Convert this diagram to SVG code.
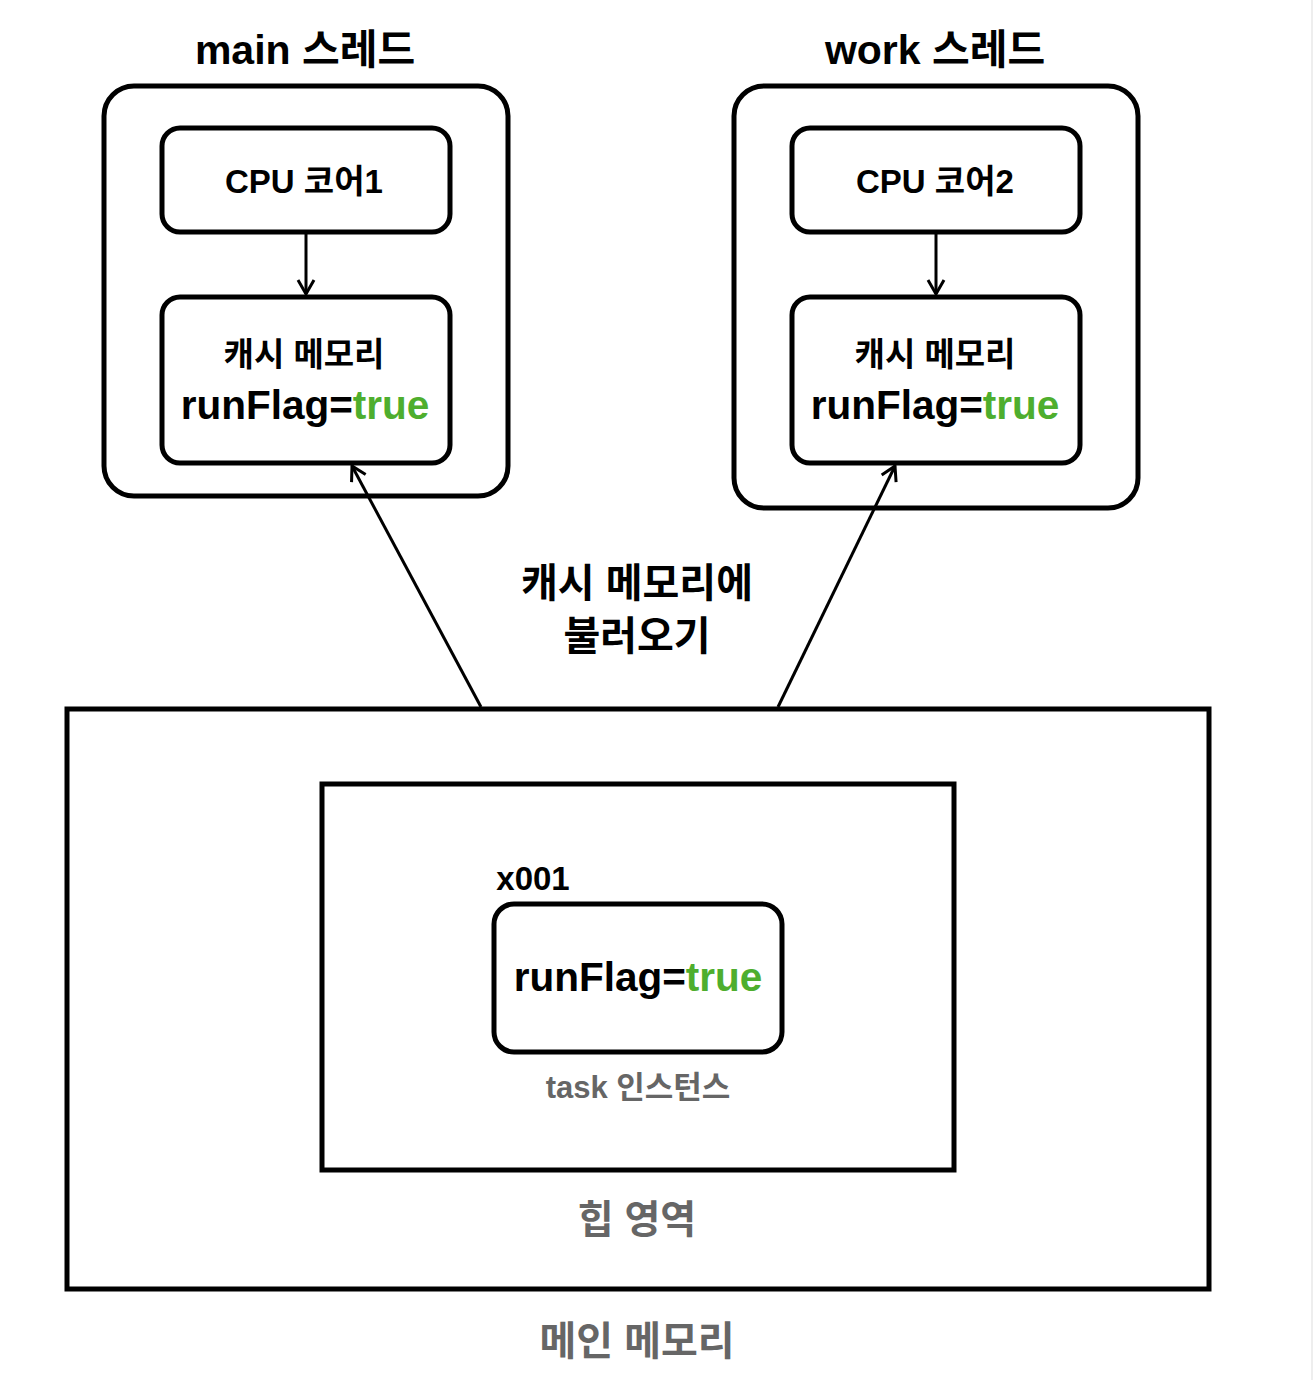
<svg xmlns="http://www.w3.org/2000/svg" width="1314" height="1380" viewBox="0 0 1314 1380">
<style>
text{font-family:"Liberation Sans","Noto Sans CJK KR",sans-serif;font-weight:bold;text-anchor:middle;fill:#000}
.box{fill:#fff;stroke:#000;stroke-width:5}
.g{fill:#4eae2e}
.gray{fill:#666}
.ln{stroke:#000;stroke-width:3;fill:none}
</style>
<defs>
<marker id="ah" viewBox="0 0 20 20" refX="17" refY="10" markerWidth="20" markerHeight="20" markerUnits="userSpaceOnUse" orient="auto">
<path d="M3,2 L17,10 L3,18" fill="none" stroke="#000" stroke-width="3"/>
</marker>
</defs>
<rect width="1314" height="1380" fill="#fff"/>
<line x1="1312" y1="0" x2="1312" y2="1380" stroke="#eee" stroke-width="2"/>
<g id="main-thread">
<text x="305" y="64" font-size="41">main 스레드</text>
<rect class="box" x="104" y="86" width="404" height="410" rx="30"/>
</g>
<g id="cpu1">
<rect class="box" x="162" y="128" width="288" height="104" rx="18"/>
<text x="304" y="193" font-size="33">CPU 코어1</text>
</g>
<g id="cache1">
<rect class="box" x="162" y="297" width="288" height="166" rx="18"/>
<text x="304" y="366" font-size="33">캐시 메모리</text>
<text x="305" y="419" font-size="40.5">runFlag=<tspan class="g">true</tspan></text>
</g>
<g id="work-thread">
<text x="935" y="64" font-size="41">work 스레드</text>
<rect class="box" x="734" y="86" width="404" height="422" rx="30"/>
</g>
<g id="cpu2">
<rect class="box" x="792" y="128" width="288" height="104" rx="18"/>
<text x="935" y="193" font-size="33">CPU 코어2</text>
</g>
<g id="cache2">
<rect class="box" x="792" y="297" width="288" height="166" rx="18"/>
<text x="935" y="366" font-size="33">캐시 메모리</text>
<text x="935" y="419" font-size="40.5">runFlag=<tspan class="g">true</tspan></text>
</g>
<g id="main-memory">
<rect class="box" x="67" y="709" width="1142" height="580"/>
<text class="gray" x="637" y="1355" font-size="40">메인 메모리</text>
</g>
<g id="heap">
<rect class="box" x="322" y="784" width="632" height="386" stroke-width="4"/>
<text class="gray" x="637" y="1233" font-size="39">힙 영역</text>
</g>
<g id="task">
<text x="533" y="890" font-size="33">x001</text>
<rect class="box" x="494" y="904" width="288" height="148" rx="20"/>
<text x="638" y="991" font-size="40.5">runFlag=<tspan class="g">true</tspan></text>
<text class="gray" x="638" y="1098" font-size="31">task 인스턴스</text>
</g>
<g id="connectors">
<line class="ln" x1="306" y1="233" x2="306" y2="294" marker-end="url(#ah)"/>
<line class="ln" x1="936" y1="233" x2="936" y2="294" marker-end="url(#ah)"/>
<line class="ln" x1="481" y1="707" x2="352" y2="466" marker-end="url(#ah)"/>
<line class="ln" x1="778" y1="707" x2="895" y2="466" marker-end="url(#ah)"/>
<text x="637" y="597" font-size="40">캐시 메모리에</text>
<text x="637" y="650" font-size="40">불러오기</text>
</g>
</svg>
